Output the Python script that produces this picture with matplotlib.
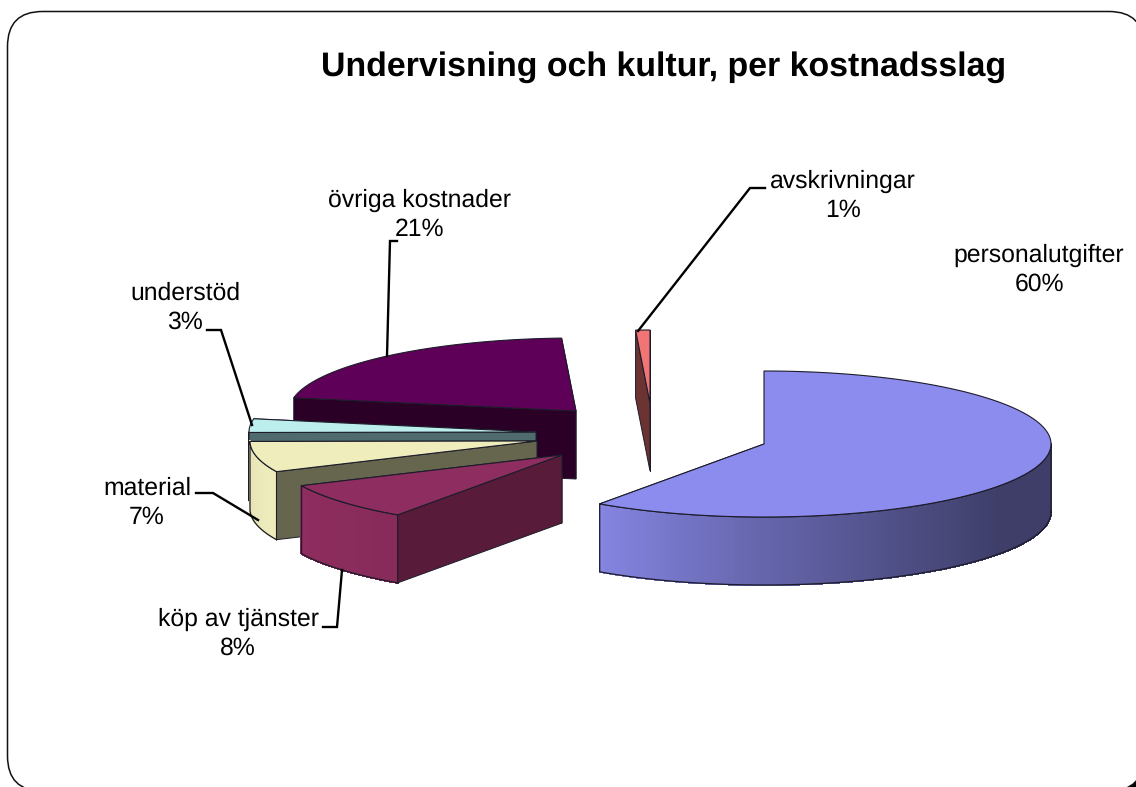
import numpy as np
import matplotlib
matplotlib.use("Agg")
import matplotlib.pyplot as plt
from matplotlib.collections import PolyCollection
from matplotlib.patches import FancyBboxPatch, Polygon

plt.rcParams["font.family"] = ["Liberation Sans", "DejaVu Sans"]
plt.rcParams["text.hinting"] = "none"

# data, clockwise from 12 o'clock
names = ["personalutgifter", "köp av tjänster", "material", "understöd", "övriga kostnader", "avskrivningar"]
shares = [59.7, 8.4, 6.8, 3.0, 21.3, 0.8]

# look of each slice
top_cols = ["#8C8CEE", "#8E2D5F", "#EFEDBC", "#BDEEEE", "#5F0058", "#F27575"]
face_cols = ["#5C5C9E", "#591B3A", "#66664F", "#4F6B6D", "#2A0027", "#6C3333"]
centers = [(764, 444), (562, 455), (537, 441), (536, 432), (576, 411), (650, 403)]
draw_order = [4, 3, 2, 1, 5, 0]
label_pos = [(1039, 270), (238, 634), (147, 503), (185, 308), (420, 215), (843, 196)]
leaders = [None,
           [(342, 570), (337, 627), (323, 627)],
           [(258, 520), (213, 493), (196, 493)],
           [(252, 425), (221, 330), (207, 330)],
           [(387, 356), (390, 241), (397, 241)],
           [(638, 331), (750, 188), (765, 188)]]

RX, RY, DEPTH = 287, 73, 68
EDGE = "#1c1c2a"

# side shade by angle
shade_ang = [90, 125, 150, 180, 215, 245, 270]
shade_val = [0.44, 0.44, 0.55, 0.72, 0.95, 1.0, 0.96]


def rim(cx, cy, ang):
    a = np.radians(ang)
    return np.column_stack([cx + RX * np.sin(a), cy - RY * np.cos(a)])


fig = plt.figure(figsize=(11.36, 7.87), dpi=100)
ax = fig.add_axes([0, 0, 1, 1])
ax.set_xlim(0, 1136)
ax.set_ylim(787, 0)
ax.axis("off")

# frame with the black shadow just showing at lower right
box = dict(boxstyle="round,pad=0,rounding_size=35")
ax.add_patch(FancyBboxPatch((60, 40), 1093, 760, fc="black", ec="black", zorder=0, **box))
ax.add_patch(FancyBboxPatch((7.5, 11.5), 1136.5, 779.5, fc="white", ec="#111111", lw=1.1, zorder=1, **box))

edges = np.concatenate([[0], np.cumsum(shares)]) * 3.6
z = 2
for i in draw_order:
    cx, cy = centers[i]
    a0, a1 = edges[i], edges[i + 1]
    ang = np.linspace(a0, a1, max(int((a1 - a0) * 2), 4))
    arc = rim(cx, cy, ang)
    top = np.vstack([[cx, cy], arc])
    down = np.array([0, DEPTH])

    # hidden cut, then outer wall, then the cut that faces us
    end = [(cx, cy), arc[-1], arc[-1] + down, (cx, cy + DEPTH)]
    ax.add_patch(Polygon(end, fc=face_cols[i], ec=EDGE, lw=0.7, zorder=z))
    z += 1
    lo, hi = max(a0, 90), min(a1, 270)
    if lo < hi:
        ang_s = np.linspace(lo, hi, int((hi - lo) * 2) + 2)
        pts = rim(cx, cy, ang_s)
        quads = [[pts[k], pts[k + 1], pts[k + 1] + down, pts[k] + down] for k in range(len(pts) - 1)]
        base = np.array(matplotlib.colors.to_rgb(top_cols[i]))
        mids = (ang_s[:-1] + ang_s[1:]) / 2
        cols = [base * np.interp(m, shade_ang, shade_val) for m in mids]
        ax.add_collection(PolyCollection(quads, facecolors=cols, edgecolors=cols, lw=0.8,
                                         antialiased=False, zorder=z))
        z += 1
        outline = np.vstack([pts + down, [pts[-1]], pts[::-1], [pts[0] + down]])
        ax.plot(outline[:, 0], outline[:, 1], color=EDGE, lw=0.9, zorder=z)
        z += 1
    start = [(cx, cy), arc[0], arc[0] + down, (cx, cy + DEPTH)]
    if i != 0:
        ax.add_patch(Polygon(start, fc=face_cols[i], ec=EDGE, lw=0.7, zorder=z))
        z += 1
    ax.add_patch(Polygon(top, fc=top_cols[i], ec=EDGE, lw=0.8, zorder=z))
    z += 1

for i, name in enumerate(names):
    if leaders[i] is not None:
        xs, ys = zip(*leaders[i])
        ax.plot(xs, ys, color="black", lw=1.7, zorder=z, solid_joinstyle="miter")
    ax.text(label_pos[i][0], label_pos[i][1], f"{name}\n{shares[i]:.0f}%", ha="center", va="center",
            fontsize=17.8, linespacing=1.33, color="black", zorder=z + 1)

ax.text(664, 67, "Undervisning och kultur, per kostnadsslag", ha="center", va="center",
        fontsize=24.4, fontweight="bold", color="black", zorder=z + 1)

fig.savefig("out.png", dpi=100)
